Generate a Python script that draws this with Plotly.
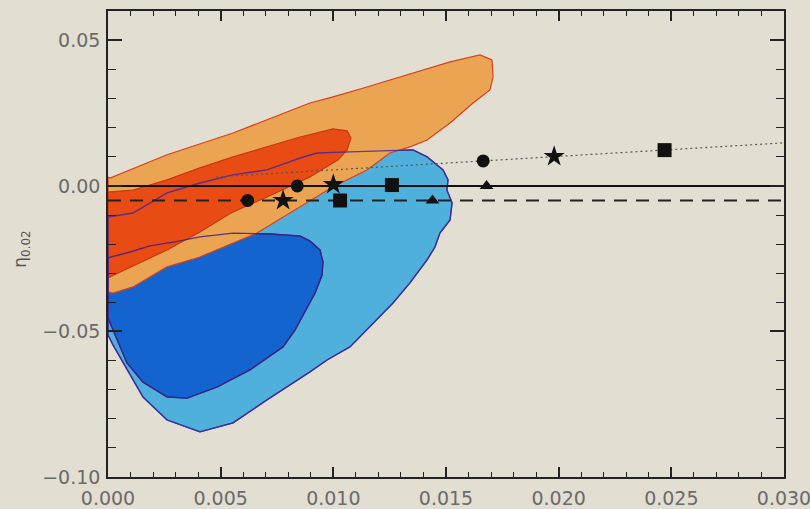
import plotly.graph_objects as go

# Confidence regions in the (xi, eta_0.02) plane
outer_orange_x = [0.0, 0.00009, 0.00262, 0.00555, 0.00896, 0.00999, 0.01149, 0.01251, 0.01371, 0.01518,
                  0.01651, 0.01704, 0.01709, 0.01695, 0.0162, 0.01518, 0.01416, 0.0134, 0.01251, 0.01149,
                  0.00999, 0.00852, 0.00661, 0.00555, 0.00408, 0.00262, 0.00111, 0.00022, 0.0]
outer_orange_y = [0.0031, 0.0027, 0.0107, 0.0182, 0.0285, 0.0306, 0.0340, 0.0364, 0.0392, 0.0426,
                  0.0450, 0.0433, 0.0375, 0.0330, 0.0285, 0.0216, 0.0158, 0.0134, 0.0113, 0.0055,
                  -0.0003, -0.0072, -0.0162, -0.0196, -0.0244, -0.0278, -0.0347, -0.0368, -0.0364]

inner_red_x = [0.0, 0.00111, 0.00262, 0.00408, 0.00555, 0.00706, 0.00852, 0.00999, 0.01061, 0.01078,
               0.01061, 0.0102, 0.00963, 0.00896, 0.00706, 0.00555, 0.00408, 0.00262, 0.00111, 0.0]
inner_red_y = [-0.0021, -0.0014, 0.0021, 0.0062, 0.0100, 0.0134, 0.0168, 0.0196, 0.0189, 0.0165,
               0.0124, 0.0089, 0.0062, 0.0031, -0.0038, -0.0089, -0.0158, -0.0220, -0.0275, -0.0316]

outer_blue_x = [0.0, 0.00111, 0.00262, 0.00408, 0.00555, 0.00706, 0.00852, 0.00928, 0.01074, 0.01296,
                0.01354, 0.01416, 0.01487, 0.01509, 0.01504, 0.01527, 0.01518, 0.01473, 0.01451, 0.01416,
                0.0134, 0.01265, 0.01149, 0.01074, 0.00972, 0.00896, 0.00706, 0.00555, 0.00408, 0.00262,
                0.00155, 0.00084, 0.00022, 0.0]
outer_blue_y = [-0.0107, -0.0093, -0.0024, 0.0010, 0.0038, 0.0055, 0.0096, 0.0113, 0.0117, 0.0124,
                0.0124, 0.0100, 0.0055, 0.0021, -0.0014, -0.0058, -0.0117, -0.0162, -0.0210, -0.0254,
                -0.0333, -0.0402, -0.0495, -0.0553, -0.0598, -0.0639, -0.0735, -0.0814, -0.0845, -0.0804,
                -0.0725, -0.0632, -0.0546, -0.0512]

inner_blue_x = [0.0, 0.00098, 0.00186, 0.00297, 0.00408, 0.00555, 0.00719, 0.00852, 0.00896, 0.00941,
                0.00954, 0.0095, 0.00919, 0.00874, 0.0083, 0.00777, 0.0063, 0.00484, 0.00351, 0.00262,
                0.00155, 0.00084, 0.00031, 0.0]
inner_blue_y = [-0.0247, -0.0227, -0.0206, -0.0192, -0.0175, -0.0162, -0.0165, -0.0172, -0.0189, -0.0220,
                -0.0261, -0.0306, -0.0368, -0.0433, -0.0495, -0.0553, -0.0632, -0.0691, -0.0729, -0.0725,
                -0.0674, -0.0608, -0.0512, -0.0454]

# Model predictions
circle_x = [0.0062, 0.0084, 0.01665]
circle_y = [-0.005, 0.0, 0.0086]
star_x = [0.00777, 0.0100, 0.0198]
star_y = [-0.005, 0.0005, 0.0101]
square_x = [0.0103, 0.0126, 0.0247]
square_y = [-0.005, 0.0003, 0.0123]
triangle_x = [0.0144, 0.0168]
triangle_y = [-0.005, 0.0]

trend_x = [0.0048, 0.01665, 0.0198, 0.0247, 0.030]
trend_y = [0.0031, 0.0086, 0.0101, 0.0123, 0.0148]

ref_levels = [0.0, -0.005]
x_range = [0.0, 0.030]
y_range = [-0.10, 0.0601]
x_ticks = [0.000, 0.005, 0.010, 0.015, 0.020, 0.025, 0.030]
x_ticklabels = ["0.000", "0.005", "0.010", "0.015", "0.020", "0.025", "0.030"]
y_ticks = [-0.10, -0.05, 0.00, 0.05]
y_ticklabels = ["\u22120.10", "\u22120.05", "0.00", "0.05"]

BG = "#e3ded2"
fig = go.Figure()


def region(xs, ys, fill, edge, width=1.2):
    fig.add_trace(go.Scatter(x=xs + xs[:1], y=ys + ys[:1], mode="lines", fill="toself",
                             fillcolor=fill, line=dict(color=edge, width=width),
                             hoverinfo="skip", showlegend=False))


def outline(xs, ys, color, width=1.4):
    fig.add_trace(go.Scatter(x=xs + xs[:1], y=ys + ys[:1], mode="lines",
                             line=dict(color=color, width=width),
                             hoverinfo="skip", showlegend=False))


region(outer_blue_x, outer_blue_y, "#4fb0dc", "#1d3fa8")
region(inner_blue_x, inner_blue_y, "#1464cf", "#17308f")
region(outer_orange_x, outer_orange_y, "#eba552", "#d8401e")
region(inner_red_x, inner_red_y, "#e84c14", "#c8380e")
outline(outer_blue_x, outer_blue_y, "rgba(70,40,150,0.85)")
outline(inner_blue_x, inner_blue_y, "rgba(70,30,130,0.85)")

# Reference levels
fig.add_trace(go.Scatter(x=x_range, y=[ref_levels[0]] * 2, mode="lines",
                         line=dict(color="#111111", width=2), showlegend=False, hoverinfo="skip"))
fig.add_trace(go.Scatter(x=x_range, y=[ref_levels[1]] * 2, mode="lines",
                         line=dict(color="#222222", width=2.2, dash="13px,9px"),
                         showlegend=False, hoverinfo="skip"))
fig.add_trace(go.Scatter(x=trend_x, y=trend_y, mode="lines",
                         line=dict(color="#555555", width=1.2, dash="2px,3px"),
                         showlegend=False, hoverinfo="skip"))

mk = "#111111"
fig.add_trace(go.Scatter(x=circle_x, y=circle_y, mode="markers",
                         marker=dict(symbol="circle", size=13, color=mk), showlegend=False))
fig.add_trace(go.Scatter(x=star_x, y=star_y, mode="markers",
                         marker=dict(symbol="star", size=16, color=mk), showlegend=False))
fig.add_trace(go.Scatter(x=square_x, y=square_y, mode="markers",
                         marker=dict(symbol="square", size=14, color=mk), showlegend=False))
fig.add_trace(go.Scatter(x=triangle_x, y=triangle_y, mode="markers",
                         marker=dict(symbol="triangle-up", size=12, color=mk), showlegend=False))

tickfont = dict(family="DejaVu Sans", size=19, color="#6a6a6a")
fig.update_xaxes(range=[x_range[0], x_range[1] + 1e-7], tickmode="array",
                 tickvals=x_ticks, ticktext=x_ticklabels, automargin=False,
                 ticklabeloverflow="allow",
                 ticks="inside", ticklen=10, tickwidth=1.5, tickcolor="#222",
                 minor=dict(dtick=0.001, tick0=0, ticks="inside", ticklen=5, tickwidth=1.3, tickcolor="#222"),
                 showline=True, linecolor="#222", linewidth=1.6, mirror="ticks",
                 showgrid=False, zeroline=False, tickfont=tickfont, ticklabelstandoff=3)
fig.update_yaxes(range=y_range, tickmode="array", tickvals=y_ticks, ticktext=y_ticklabels,
                 automargin=False, ticklabeloverflow="allow",
                 ticks="inside", ticklen=14, tickwidth=1.5, tickcolor="#222",
                 minor=dict(dtick=0.01, tick0=0, ticks="inside", ticklen=8, tickwidth=1.3, tickcolor="#222"),
                 showline=True, linecolor="#222", linewidth=1.6, mirror="ticks",
                 showgrid=False, zeroline=False, tickfont=tickfont, ticklabelstandoff=2)

fig.add_annotation(xref="paper", yref="paper", x=(22 - 108) / 676, y=0.49,
                   xanchor="center", yanchor="middle",
                   text="η<sub>0.02</sub>", textangle=-90, showarrow=False,
                   font=dict(family="DejaVu Sans", size=17, color="#555555"))

fig.update_layout(width=810, height=509, margin=dict(l=108, r=26, t=11, b=32),
                  plot_bgcolor=BG, paper_bgcolor=BG, showlegend=False)

fig.write_html("out.html")
